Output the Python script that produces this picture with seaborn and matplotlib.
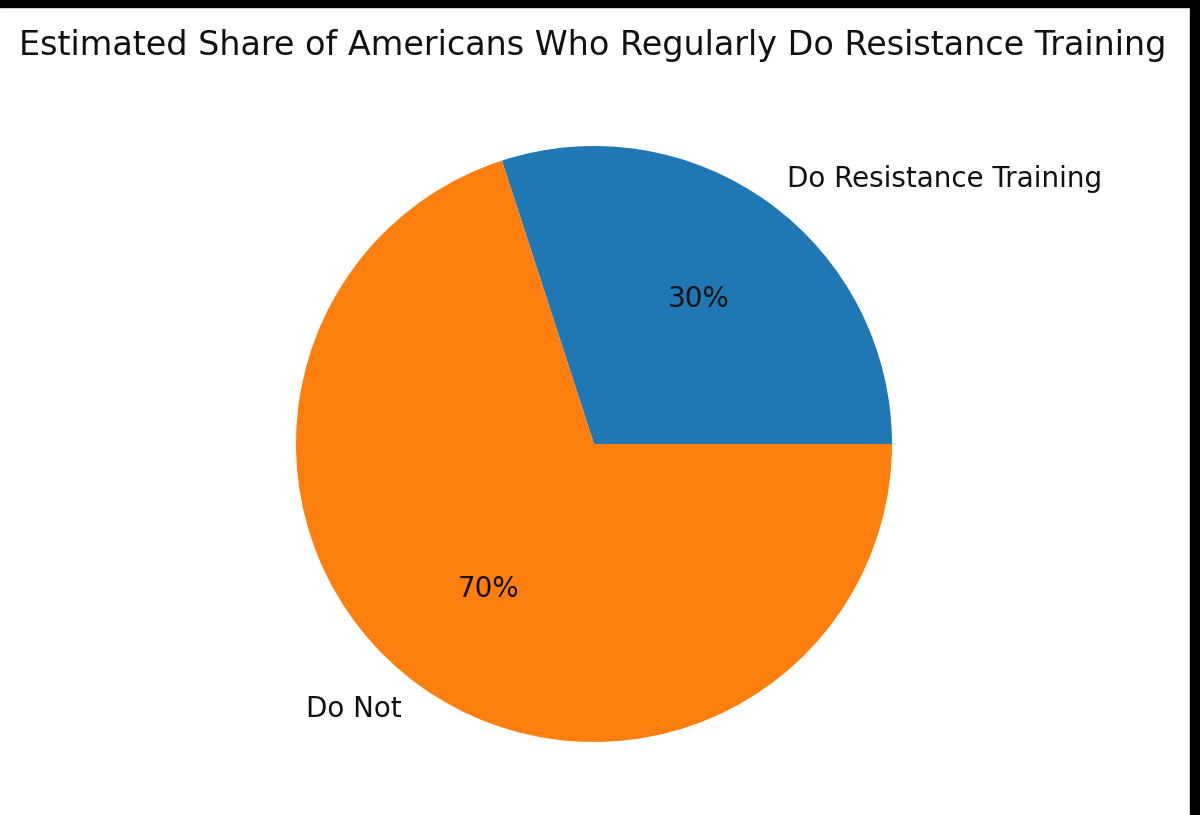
import matplotlib
matplotlib.use('Agg')
import matplotlib.pyplot as plt
import seaborn as sns
from matplotlib.patches import Rectangle

titulo = 'Estimated Share of Americans Who Regularly Do Resistance Training'
categorias = ['Do Resistance Training', 'Do Not']
valores = [30, 70]

cores = sns.color_palette('tab10', 2)

fig = plt.figure(figsize=(12, 8.15), dpi=100)

# eixo posicionado para o pie ocupar o mesmo lugar da referencia
ax = fig.add_axes([296 / 1200, (815 - 742) / 815, 596 / 1200, 596 / 815])

ax.pie(
    valores,
    labels=categorias,
    colors=cores,
    autopct='%1.0f%%',
    textprops={'fontsize': 20, 'color': '#111111'},
)
ax.set_xlim(-1, 1)
ax.set_ylim(-1, 1)
ax.set_aspect('equal')

fig.text(593 / 1200, 1 - 46 / 815, titulo, ha='center', va='center', fontsize=24, color='#111111')

# bordas pretas da captura de tela
fig.patches.append(Rectangle((0, 1 - 7 / 815), 1, 7 / 815, transform=fig.transFigure, color='black'))
fig.patches.append(Rectangle((1190 / 1200, 0), 10 / 1200, 1, transform=fig.transFigure, color='black'))

fig.savefig('out.png', dpi=100)
